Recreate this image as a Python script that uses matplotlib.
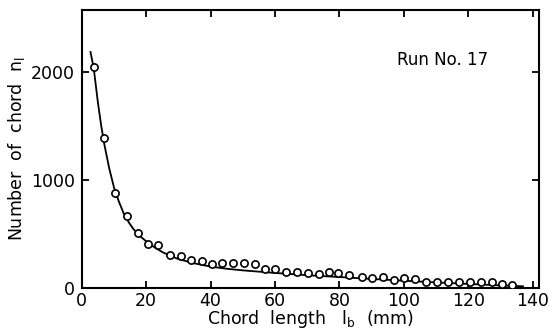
import matplotlib
matplotlib.use("Agg")
import matplotlib.pyplot as plt

# Measured chord-length distribution (Run No. 17)
chord_length = [3.7, 6.8, 10.4, 14.0, 17.3, 20.4, 23.7, 27.4, 30.7, 33.8,
                37.2, 40.3, 43.6, 47.0, 50.4, 53.7, 56.8, 60.1, 63.5, 66.9,
                70.3, 73.7, 76.8, 79.7, 83.0, 86.9, 90.2, 93.6, 96.9, 100.2,
                103.6, 107.0, 110.3, 113.6, 117.0, 120.6, 123.9, 127.3, 130.4, 133.5]
n_chord = [2054, 1393, 882, 665, 510, 402, 395, 302, 296, 256,
           246, 216, 231, 225, 225, 219, 176, 169, 147, 147,
           138, 126, 147, 132, 116, 95, 86, 100, 70, 86,
           76, 48, 48, 54, 48, 54, 54, 48, 33, 23]

# Fitted curve
curve_x = [2.7, 3.7, 5.0, 6.0, 7.0, 8.5, 10.0, 11.5, 13.0, 14.5, 16.0, 18.0,
           20.0, 22.5, 25.0, 27.5, 30.0, 35.0, 40.0, 45.0, 50.0, 55.0, 60.0,
           70.0, 80.0, 90.0, 100.0, 110.0, 120.0, 130.0, 137.0]
curve_y = [2190, 2040, 1720, 1510, 1330, 1110, 930, 800, 690, 610, 545, 480,
           430, 375, 330, 295, 265, 225, 195, 175, 160, 148, 136,
           115, 98, 80, 64, 48, 34, 20, 12]

x_ticks = [0, 20, 40, 60, 80, 100, 120, 140]
y_ticks = [0, 1000, 2000]

plt.rcParams['font.family'] = ['DejaVu Sans']
plt.rcParams['mathtext.fontset'] = 'dejavusans'

fig = plt.figure(figsize=(5.49, 3.34), dpi=100)
ax = fig.add_axes([0.149, 0.139, 0.833, 0.831])

ax.plot(curve_x, curve_y, color='black', lw=1.3, zorder=2)
ax.plot(chord_length, n_chord, linestyle='none', marker='o', markersize=5.2,
        markerfacecolor='white', markeredgecolor='black', markeredgewidth=1.2, zorder=3)

ax.set_xlim(0, 142)
ax.set_ylim(0, 2580)
ax.set_xticks(x_ticks)
ax.set_yticks(y_ticks)
ax.set_xticklabels([str(v) for v in x_ticks], fontsize=12.5)
ax.set_yticklabels([str(v) for v in y_ticks], fontsize=12.5)
ax.tick_params(axis='both', direction='in', top=True, right=True, length=5, width=1.3)
ax.tick_params(axis='x', pad=3)
ax.tick_params(axis='y', pad=5)
for s in ax.spines.values():
    s.set_linewidth(1.5)

ax.set_xlabel(r"Chord  length   l$_\mathregular{b}$  (mm)", fontsize=12.5, labelpad=-1)
ax.set_ylabel(r"Number  of  chord  n$_\mathregular{l}$", fontsize=12.5, labelpad=3)

ax.text(0.69, 0.82, "Run No. 17", transform=ax.transAxes, fontsize=12,
        ha='left', va='center')

fig.savefig("out.png", dpi=100)
